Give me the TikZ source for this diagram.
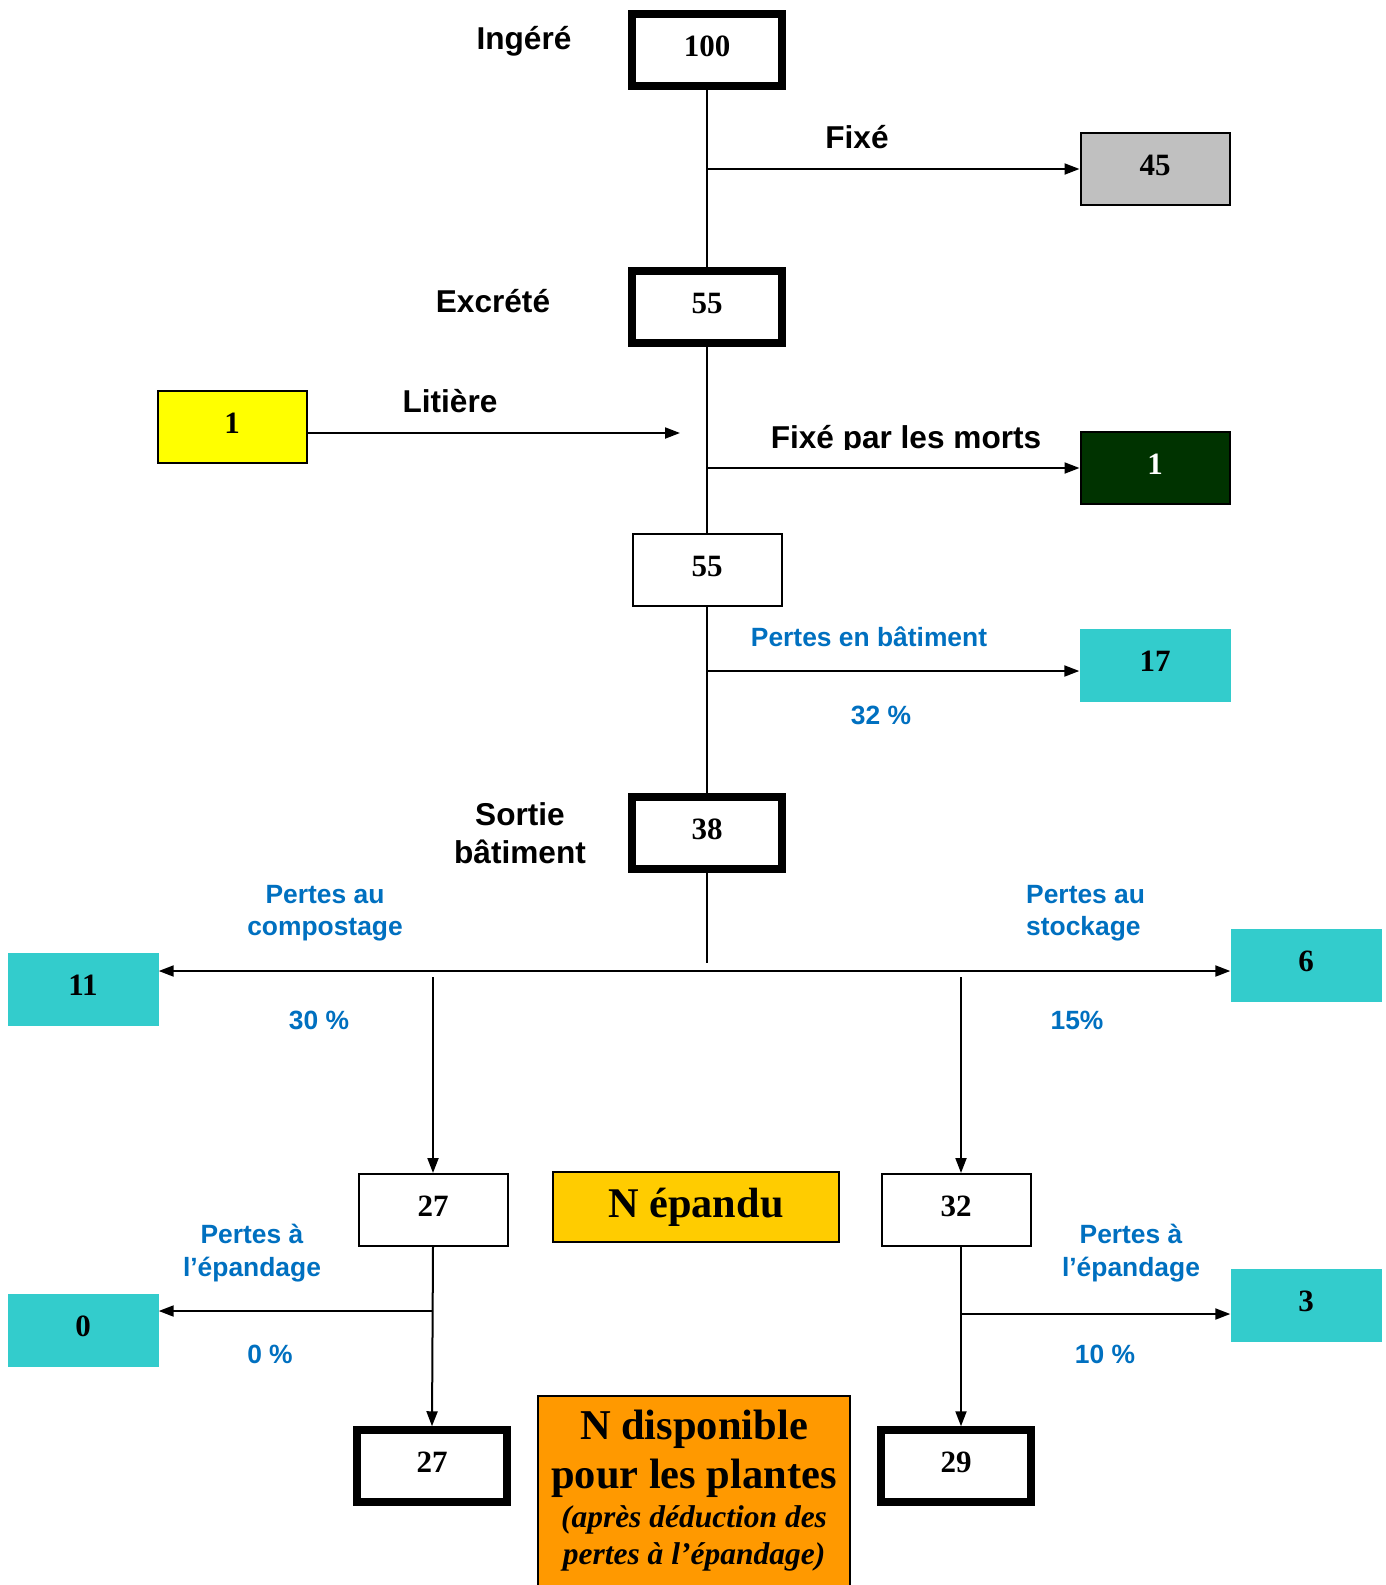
\documentclass[tikz,border=0pt]{standalone}
\usepackage{fontspec}
\setmainfont{Liberation Serif}
\newfontfamily\arialf{Liberation Sans}
\usetikzlibrary{arrows.meta}
\definecolor{cyanbox}{HTML}{33CCCC}
\definecolor{bluetxt}{HTML}{0070C0}
\definecolor{yelbox}{HTML}{FFFF00}
\definecolor{dkgreen}{HTML}{003300}
\definecolor{goldbox}{HTML}{FFCC00}
\definecolor{orngbox}{HTML}{FF9900}
\definecolor{graybox}{HTML}{C0C0C0}
\begin{document}
\begin{tikzpicture}[x=1pt,y=-1pt,
 numfont/.style={font=\fontsize{31}{31}\selectfont\bfseries, text height=21pt, text depth=8pt},
 thickbox/.style={draw, line width=7.5pt, minimum width=150pt, minimum height=72pt, inner sep=0pt, numfont},
 thinbox/.style={draw, line width=2pt, minimum width=149pt, minimum height=72pt, inner sep=0pt, numfont},
 cyanb/.style={fill=cyanbox, minimum width=151pt, minimum height=73pt, inner sep=0pt, numfont},
 blk/.style={font=\arialf\bfseries\fontsize{31.6}{37.4}\selectfont, align=center, inner sep=0pt},
 blu/.style={text=bluetxt, font=\arialf\bfseries\fontsize{26.4}{32.4}\selectfont, align=center, inner sep=0pt},
 arr/.style={line width=2pt, -{Triangle[length=15pt,width=11pt]}},
 darr/.style={line width=2pt, {Triangle[length=15pt,width=11pt]}-{Triangle[length=15pt,width=11pt]}},
 ln/.style={line width=2pt}]
\useasboundingbox (0,0) rectangle (1386,1585);
\fill[white] (0,0) rectangle (1386,1585);

% boxes
\node[thickbox] (b100) at (707,50) {100};
\node[thinbox, fill=graybox] (b45) at (1155,169) {45};
\node[thickbox] (b55a) at (707,307) {55};
\node[thinbox, fill=yelbox] (by1) at (232,427) {1};
\node[thinbox, fill=dkgreen, text=white] (bg1) at (1155,468) {1};
\node[thinbox] (b55b) at (707,570) {55};
\node[cyanb] (b17) at (1155,665) {17};
\node[thickbox] (b38) at (707,833) {38};
\node[cyanb] (b11) at (83,989) {11};
\node[cyanb] (b6) at (1306,965) {6};
\node[thinbox] (b27a) at (433,1210) {27};
\node[draw, line width=2pt, fill=goldbox, minimum width=286pt, minimum height=70pt, inner sep=0pt, font=\fontsize{42.3}{42.3}\selectfont\bfseries] (bep) at (696,1207) {N épandu};
\node[thinbox] (b32) at (956,1210) {32};
\node[cyanb] (b0) at (83,1330) {0};
\node[cyanb] (b3) at (1306,1305) {3};
\node[thickbox] (b27b) at (432,1466) {27};
\node[thickbox] (b29) at (956,1466) {29};
\node[draw, line width=2pt, fill=orngbox, minimum width=312pt, minimum height=210pt, anchor=north, inner sep=0pt] (bnd) at (694,1395) {};
\node[font=\fontsize{42.5}{49}\selectfont\bfseries, align=center, inner sep=0pt] (tnd1) at (694,1454) {N disponible\\pour les plantes};
\node[font=\fontsize{31.5}{37}\selectfont\bfseries\itshape, align=center, inner sep=0pt] (tnd2) at (694,1538) {(après déduction des\\pertes à l’épandage)};

% labels
\node[blk] (lIng) at (524,41) {Ingéré};
\node[blk] (lFix) at (857,137) {Fixé};
\node[blk] (lExc) at (493,301) {Excrété};
\node[blk] (lLit) at (450,401) {Litière};
\begin{scope}
\clip (740,400) rectangle (1070,449);
\node[blk, anchor=base] (lMor) at (906,448) {Fixé par les morts};
\end{scope}
\node[blu] (lPb) at (869,637) {Pertes en bâtiment};
\node[blu] (l32) at (881,715) {32 \%};
\node[blk] (lSor) at (520,833) {Sortie\\bâtiment};
\node[blu] (lPc) at (325,913) {Pertes au\\compostage};
\node[blu, align=left, anchor=west] (lPs) at (1026,913) {Pertes au\\stockage};
\node[blu] (l30) at (319,1020) {30 \%};
\node[blu] (l15) at (1077,1020) {15\%};
\node[blu] (lPe1) at (252,1253) {Pertes à\\l’épandage};
\node[blu] (l0) at (270,1354) {0 \%};
\node[blu] (lPe2) at (1131,1253) {Pertes à\\l’épandage};
\node[blu] (l10) at (1105,1354) {10 \%};

% junction coordinates
\coordinate (j1) at (707,169);
\coordinate (jl) at (680,433);
\coordinate (j2) at (707,468);
\coordinate (j3) at (707,671);
\coordinate (jend) at (707,963);
\coordinate (hc) at (707,971);
\coordinate (d1) at (433,977);
\coordinate (d2) at (961,977);
\coordinate (br1) at (433,1311);
\coordinate (br2) at (961,1314);

% connectors
\draw[ln] (b100.south) -- (b55a.north);
\draw[arr] (j1) -- (b45.west |- j1);
\draw[ln] (b55a.south) -- (b55b.north);
\draw[arr] (by1.east |- jl) -- (jl);
\draw[arr] (j2) -- (bg1.west |- j2);
\draw[ln] (b55b.south) -- (b38.north);
\draw[arr] (j3) -- (b17.west |- j3);
\draw[ln] (b38.south) -- (jend);
\draw[darr] (b11.east |- hc) -- (b6.west |- hc);
\draw[arr] (d1) -- (b27a.north);
\draw[arr] (d2) -- (d2 |- b32.north);
\draw[arr] (b27a.south) -- (b27b.north);
\draw[arr] (br1) -- (b0.east |- br1);
\draw[arr] (d2 |- b32.south) -- (d2 |- b29.north);
\draw[arr] (br2) -- (b3.west |- br2);
\end{tikzpicture}
\end{document}
